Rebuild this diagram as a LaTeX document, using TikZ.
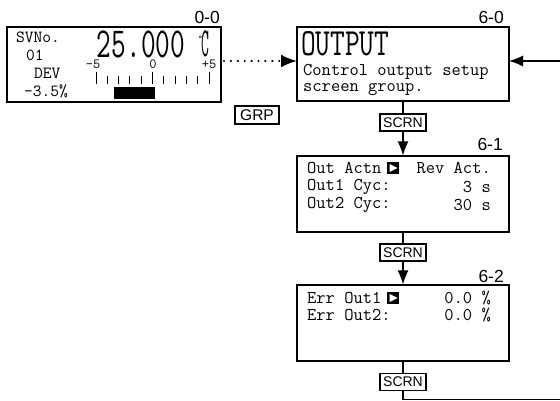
\documentclass[tikz,border=0pt]{standalone}
\usepackage{fontspec}
\newfontfamily\sansf{Liberation Sans}
\usetikzlibrary{arrows.meta}
\begin{document}
\begin{tikzpicture}[x=1pt,y=-1pt,
  scr/.style={draw, line width=1.2pt, inner sep=0, minimum width=212pt},
  lab/.style={font=\sansf\fontsize{17.5}{18}\selectfont, anchor=east, inner sep=0},
  keybox/.style={draw, line width=1.1pt, fill=white, inner sep=0, minimum width=46pt, minimum height=17pt, font=\sansf\fontsize{14}{14}\selectfont},
  txt/.style={font=\ttfamily\fontsize{18}{18}\selectfont, inner sep=0, anchor=west},
  rtxt/.style={font=\ttfamily\fontsize{18}{18}\selectfont, inner sep=0, anchor=east},
  stxt/.style={font=\ttfamily\fontsize{17}{17}\selectfont, inner sep=0, anchor=west},
  sc/.style={font=\ttfamily\fontsize{14}{14}\selectfont, inner sep=0},
  conn/.style={line width=1.2pt},
  arr/.style={-{Latex[length=14pt,width=11pt]}, line width=1.2pt},
  ptr/.style={fill=black}
]
\useasboundingbox (0,0) rectangle (560,401);

% screens
\node[scr, minimum width=214pt, minimum height=75pt] (b00) at (114,64.5) {};
\node[scr, minimum height=74pt] (b60) at (403,64) {};
\node[scr, minimum height=76pt] (b61) at (403,194) {};
\node[scr, minimum height=76pt] (b62) at (403,323) {};

% screen numbers
\node[lab] (l00) at (220,17.5) {0-0};
\node[lab] (l60) at (504,17.5) {6-0};
\node[lab] (l61) at (503,144) {6-1};
\node[lab] (l62) at (504,276) {6-2};

% screen 0-0 contents
\node[stxt] (t1) at (16,37) {SVNo.};
\node[stxt] (t2) at (26,55) {01};
\node[stxt] (t3) at (34,73) {DEV};
\node[stxt] (t4) at (24,91) {-3.5\%};
\node[inner sep=0] (big) at (141,44) {\scalebox{1}[1.5]{\ttfamily\fontsize{28.5}{28.5}\selectfont 25.000}};
\node[inner sep=0, anchor=west] (degc) at (198,44) {\raisebox{15pt}{\ttfamily\fontsize{9}{9}\selectfont °}\kern-1.5pt\scalebox{0.85}[2.3]{\ttfamily\fontsize{18}{18}\selectfont C}};
\node[sc] (m5) at (93,64.5) {-5};
\node[sc] (z0) at (153,64.5) {0};
\node[sc] (p5) at (209,64.5) {+5};
\foreach \i in {0,...,10} {
  \pgfmathsetmacro{\xx}{96+\i*11.3}
  \ifnum\i=0 \draw[line width=1pt] (\xx,72.5) -- (\xx,84);
  \else\ifnum\i=5 \draw[line width=1pt] (\xx,72.5) -- (\xx,84);
  \else\ifnum\i=10 \draw[line width=1pt] (\xx,72.5) -- (\xx,84);
  \else \draw[line width=1pt] (\xx,76) -- (\xx,84);
  \fi\fi\fi
}
\fill (114,87) rectangle (155,99);

% screen 6-0 contents
\node[inner sep=0, anchor=west] (out) at (301,43.5) {\scalebox{1}[1.35]{\ttfamily\fontsize{28.5}{28.5}\selectfont OUTPUT}};
\node[txt] (c1) at (303,72) {Control output setup};
\node[txt] (c2) at (303,90) {screen group.};

% screen 6-1 contents
\node[txt] (a1) at (307,168) {Out Actn};
\fill[ptr] (387,162) rectangle (399,174);
\fill[white] (389.5,164) -- (397.5,168) -- (389.5,172) -- cycle;
\node[rtxt] (a2) at (491,168) {Rev Act.};
\node[txt] (a3) at (307,187) {Out1 Cyc:};
\node[rtxt] (a4) at (491,187) {3 s};
\node[txt] (a5) at (307,205) {Out2 Cyc:};
\node[rtxt] (a6) at (491,205) {30 s};

% screen 6-2 contents
\node[txt] (e1) at (307,298) {Err Out1};
\fill[ptr] (387,292) rectangle (399,304);
\fill[white] (389.5,294) -- (397.5,298) -- (389.5,302) -- cycle;
\node[rtxt] (e2) at (491,298) {0.0 \%};
\node[txt] (e3) at (307,315) {Err Out2:};
\node[rtxt] (e4) at (491,315) {0.0 \%};

% keys
\node[keybox, minimum width=44pt, minimum height=18pt, font=\sansf\fontsize{15.5}{15.5}\selectfont] (grp) at (257,115) {GRP};
\node[keybox] (s1) at (403,122.5) {SCRN};
\node[keybox] (s2) at (403,252.5) {SCRN};
\node[keybox] (s3) at (403,382) {SCRN};

% connectors
\coordinate (d1) at (221,61);
\coordinate (d2) at (297,61);
\draw[line width=2.4pt, line cap=round, dash pattern=on 0pt off 6.9pt, shorten <=3pt, -{Latex[length=16pt,width=13pt]}] (d1) -- (d2);
\draw[conn] (b60.south) -- (s1.north);
\draw[arr] (s1.south) -- (b61.north);
\draw[conn] (b61.south) -- (s2.north);
\draw[arr] (s2.south) -- (b62.north);
\draw[conn] (b62.south) -- (s3.north);
\coordinate (r1) at (403,399.5);
\coordinate (r2) at (562,399.5);
\coordinate (r3) at (562,61);
\coordinate (r4) at (509,61);
\draw[arr] (s3.south) -- (r1) -- (r2) -- (r3) -- (r4);
\end{tikzpicture}
\end{document}
